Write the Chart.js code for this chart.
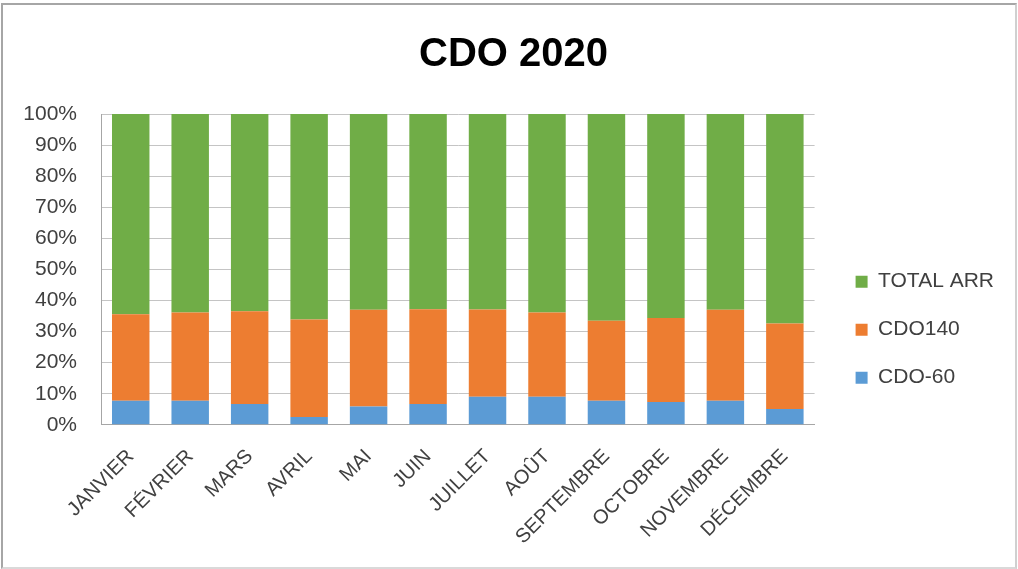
<!DOCTYPE html>
<html lang="fr">
<head>
    <meta charset="UTF-8">
    <title>CDO 2020</title>
    <script src="https://cdn.jsdelivr.net/npm/chart.js"></script>
    <style>
        body {
            margin: 0;
            background: #ffffff;
            font-family: "Liberation Sans", Arial, sans-serif;
        }
        .frame {
            position: absolute;
            left: 1px;
            top: 3px;
            width: 1012px;
            height: 562px;
            border: 2px solid #a6a6a6;
            border-right-color: #d0d0d0;
            border-bottom-color: #d9d9d9;
        }
        .chart-box {
            position: absolute;
            left: 0;
            top: 0;
            width: 1018px;
            height: 569px;
        }
    </style>
</head>
<body>
    <div class="frame"></div>
    <div class="chart-box">
        <canvas id="cdoChart"></canvas>
    </div>

    <script>
        // Mois
        const months = ['JANVIER', 'FÉVRIER', 'MARS', 'AVRIL', 'MAI', 'JUIN',
                        'JUILLET', 'AOÛT', 'SEPTEMBRE', 'OCTOBRE', 'NOVEMBRE', 'DÉCEMBRE'];

        // parts en %
        const cdo60    = [7.7, 7.7, 6.7, 2.5, 5.9, 6.7, 9.0, 9.0, 7.7, 7.3, 7.7, 5.1];
        const cdo140   = [27.9, 28.4, 29.8, 31.4, 31.1, 30.5, 28.1, 27.1, 25.8, 27.1, 29.3, 27.5];
        const totalArr = [64.4, 63.9, 63.5, 66.1, 63.0, 62.8, 62.9, 63.9, 66.5, 65.6, 63.0, 67.4];

        const yTicks = [0, 10, 20, 30, 40, 50, 60, 70, 80, 90, 100];

        const textColor = '#404040';
        const gridColor = '#c4c4c4';

        const ctx = document.getElementById('cdoChart').getContext('2d');
        const chart = new Chart(ctx, {
            type: 'bar',
            data: {
                labels: months,
                datasets: [
                    { label: 'CDO-60', data: cdo60, backgroundColor: '#5b9bd5' },
                    { label: 'CDO140', data: cdo140, backgroundColor: '#ed7d31' },
                    { label: 'TOTAL ARR', data: totalArr, backgroundColor: '#70ad47' }
                ]
            },
            options: {
                responsive: true,
                maintainAspectRatio: false,
                animation: false,
                datasets: {
                    bar: { barPercentage: 1, categoryPercentage: 0.63 }
                },
                layout: {
                    padding: { left: 23, right: 14, top: 0, bottom: 0 }
                },
                plugins: {
                    title: {
                        display: true,
                        text: 'CDO 2020',
                        color: '#000000',
                        font: { family: 'Liberation Sans', size: 40, weight: 'bold', lineHeight: 1.2 },
                        padding: { top: 31, bottom: 35 }
                    },
                    legend: {
                        position: 'right',
                        reverse: true,
                        maxWidth: 300,
                        // titre vide : décale les entrées vers le bas
                        title: {
                            display: true,
                            text: ' ',
                            font: { size: 2 },
                            padding: { top: 88, bottom: 0 }
                        },
                        labels: {
                            boxWidth: 12,
                            boxHeight: 12,
                            padding: 27,
                            color: textColor,
                            font: { family: 'Liberation Sans', size: 21 }
                        }
                    },
                    tooltip: { enabled: false }
                },
                scales: {
                    x: {
                        stacked: true,
                        grid: { display: false, drawTicks: false },
                        border: { color: '#a6a6a6', width: 1 },
                        ticks: {
                            color: textColor,
                            font: { family: 'Liberation Sans', size: 20 },
                            minRotation: 45,
                            maxRotation: 45,
                            padding: 20,
                            autoSkip: false
                        },
                        afterFit: (axis) => {
                            axis.paddingLeft = 0;
                            axis.paddingRight = 0;
                        }
                    },
                    y: {
                        stacked: true,
                        min: 0,
                        max: 100,
                        afterBuildTicks: (axis) => {
                            axis.ticks = yTicks.map(v => ({ value: v }));
                        },
                        afterFit: (axis) => { axis.width = 78; },
                        grid: { color: gridColor, drawTicks: false },
                        border: { color: '#a6a6a6', width: 1 },
                        ticks: {
                            color: textColor,
                            font: { family: 'Liberation Sans', size: 21 },
                            padding: 24,
                            callback: (v) => v + '%'
                        }
                    },
                    // espace vide entre la zone de tracé et la légende
                    gap: {
                        position: 'right',
                        display: true,
                        grid: { display: false, drawTicks: false },
                        border: { display: false },
                        ticks: { display: false },
                        afterFit: (axis) => { axis.width = 14; }
                    }
                }
            }
        });
    </script>
</body>
</html>
